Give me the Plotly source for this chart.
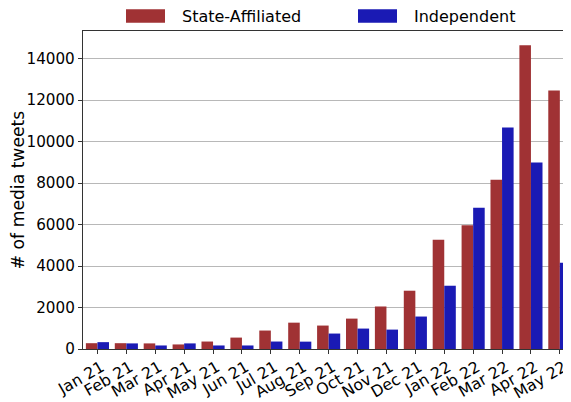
import plotly.graph_objects as go

months = ["Jan 21", "Feb 21", "Mar 21", "Apr 21", "May 21", "Jun 21", "Jul 21", "Aug 21",
          "Sep 21", "Oct 21", "Nov 21", "Dec 21", "Jan 22", "Feb 22", "Mar 22", "Apr 22", "May 22"]
state_affiliated = [280, 280, 270, 220, 360, 550, 890, 1270, 1130, 1465, 2050, 2810,
                    5270, 5960, 8160, 14640, 12460]
independent = [330, 270, 170, 270, 170, 170, 360, 355, 745, 985, 935, 1565,
               3050, 6810, 10675, 8990, 4160]
y_ticks = [0, 2000, 4000, 6000, 8000, 10000, 12000, 14000]

RED = "#a03234"
BLUE = "#1a1ab4"
FONT = "DejaVu Sans"

# The page body has an 8px margin, so the figure is sized to fit the window.
W, H = 563, 394
ML, MT, MB, MR = 75, 23, 52.5, 0

x_idx = list(range(len(months)))

fig = go.Figure()
fig.add_trace(go.Bar(x=x_idx, y=state_affiliated, name="State-Affiliated",
                     marker=dict(color=RED, line=dict(width=0)), showlegend=False))
fig.add_trace(go.Bar(x=x_idx, y=independent, name="Independent",
                     marker=dict(color=BLUE, line=dict(width=0)), showlegend=False))

fig.update_layout(
    width=W, height=H,
    margin=dict(l=ML, r=MR, t=MT, b=MB, pad=0, autoexpand=False),
    paper_bgcolor="white", plot_bgcolor="white",
    barmode="group", bargap=0.2, bargroupgap=0,
    font=dict(family=FONT, size=14.8, color="black"),
)

fig.update_xaxes(
    range=[-0.5, 16.386], automargin=False,
    tickmode="array", tickvals=x_idx, ticktext=months, tickangle=-30,
    ticks="outside", ticklen=4, tickcolor="#333333",
    ticklabelshift=4, ticklabelstandoff=-2,
    showline=True, linecolor="#333333", linewidth=1.3, mirror=True,
    showgrid=False, zeroline=False,
    tickfont=dict(family=FONT, size=15.8, color="black"),
)
fig.update_yaxes(
    range=[0, 15330], automargin=False,
    tickmode="array", tickvals=y_ticks, ticktext=[str(v) for v in y_ticks],
    ticks="outside", ticklen=4, tickcolor="#333333",
    showline=True, linecolor="#333333", linewidth=1.3,
    showgrid=True, gridcolor="#b8b8b8", gridwidth=1,
    zeroline=False,
    tickfont=dict(family=FONT, size=15.2, color="black"),
    title=dict(text="# of media tweets", font=dict(family=FONT, size=17.2, color="black"), standoff=6),
)

# Legend drawn as patches + labels above the plot (figure pixel coords)
legend_items = [("State-Affiliated", RED, 118, 172), ("Independent", BLUE, 350, 404)]
plot_w = W - ML - MR
plot_h = H - MT - MB
def py(fig_y):
    return (H - MB - fig_y) / plot_h
for label, color, px0, tx in legend_items:
    fig.add_shape(type="rect", xref="paper", yref="paper",
                  x0=(px0 - ML) / plot_w, x1=(px0 + 39 - ML) / plot_w,
                  y0=py(14.7), y1=py(1.3),
                  fillcolor=color, line=dict(width=0), layer="above")
    fig.add_annotation(xref="paper", yref="paper", x=(tx - ML) / plot_w,
                       y=py(8), text=label, showarrow=False,
                       xanchor="left", yanchor="middle",
                       font=dict(family=FONT, size=16, color="black"))

fig.write_html("out.html")
